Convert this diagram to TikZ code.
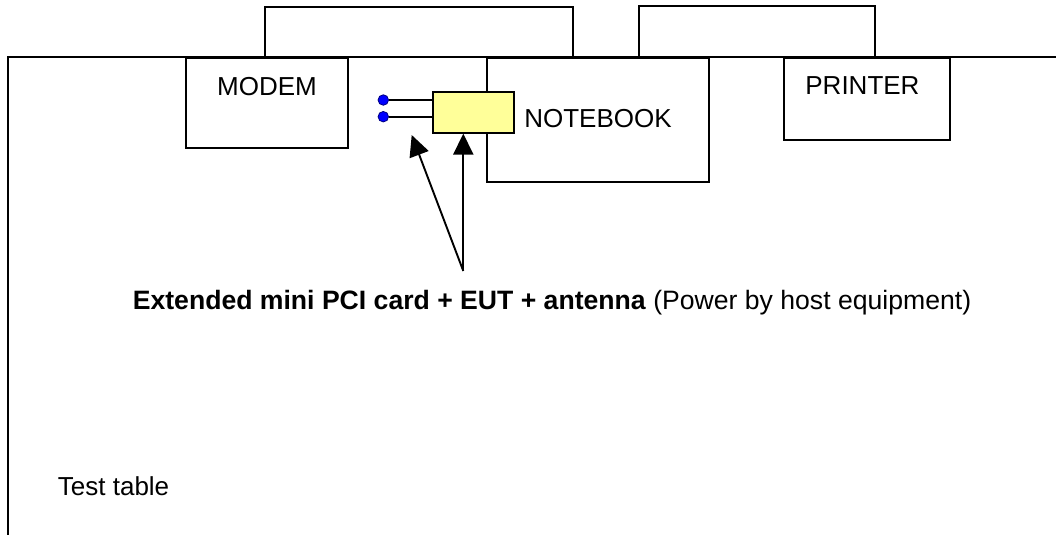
\documentclass[tikz,border=0pt]{standalone}
\usepackage{fontspec}
\setmainfont{Liberation Sans}
\usetikzlibrary{arrows.meta,calc}
\definecolor{cardyellow}{RGB}{255,255,153}
\begin{document}
\begin{tikzpicture}[x=1pt,y=-1pt,
  line width=1.9pt,
  box/.style={draw=black, rectangle, inner sep=0pt, anchor=north west, fill=white},
  lbl/.style={font=\fontsize{26}{31}\selectfont, inner sep=0pt, anchor=base},
  arr/.style={-{Triangle[length=21pt,width=20pt]}},
  wdot/.style={circle, fill=blue, draw=blue!50!black, line width=0.8pt, minimum size=10.5pt, inner sep=0pt}]
\useasboundingbox (0,0) rectangle (1056,535);
% test table outline
\draw (1056,57) -- (8,57) -- (8,535);
% equipment
\node[box, minimum width=162pt, minimum height=90pt] (modem) at (185,57) {};
\node[box, minimum width=222pt, minimum height=124pt] (notebook) at (486,57) {};
\node[box, minimum width=166pt, minimum height=82pt] (printer) at (783,57) {};
\node[box, fill=cardyellow, minimum width=81pt, minimum height=40.7pt] (card) at (431.7,91) {};
% labels
\node[lbl] (modemtxt) at ($(modem.north)+(0,38.3)$) {MODEM};
\node[lbl] (notebooktxt) at ($(notebook.center)+(0,7.3)$) {NOTEBOOK};
\node[lbl] (printertxt) at ($(printer.north)+(-4.5,37.8)$) {PRINTER};
% cables
\draw ([xshift=80pt]modem.north west) -- ++(0,-50) -| ([xshift=87pt]notebook.north west);
\draw ([xshift=153pt]notebook.north west) -- ++(0,-51) -| ([xshift=92pt]printer.north west);
% antenna leads
\node[wdot] (d1) at (383.3,100) {};
\node[wdot] (d2) at (383.3,116.7) {};
\draw (d1) -- (card.west |- d1);
\draw (d2) -- (card.west |- d2);
% arrows
\coordinate (src) at (463.3,271);
\coordinate (tip) at (411.7,135);
\draw[arr] (src) -- (card.south -| src);
\draw[arr] (src) -- (tip);
% texts
\node[lbl, font=\fontsize{26.6}{32}\selectfont] (caption) at (552,309) {\textbf{Extended mini PCI card + EUT + antenna} (Power by host equipment)};
\node[lbl, anchor=base west] (testtable) at (57,495) {Test table};
\end{tikzpicture}
\end{document}
